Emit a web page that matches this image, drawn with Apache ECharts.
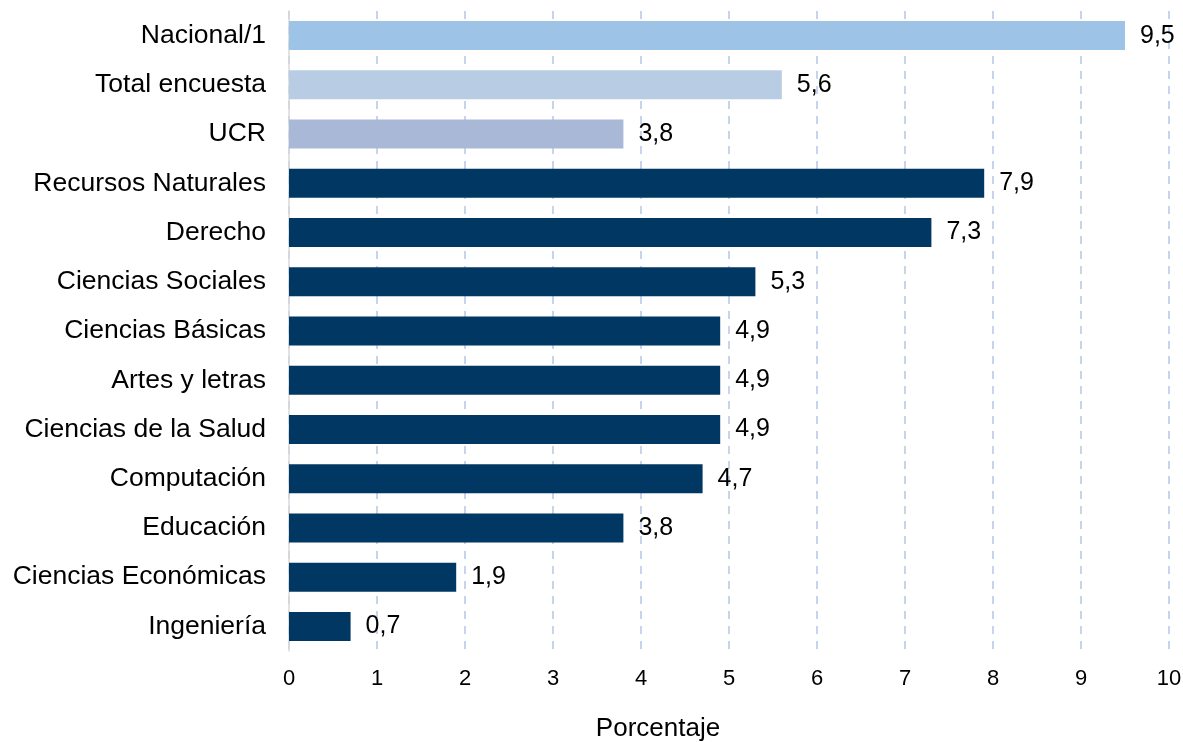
<!DOCTYPE html>
<html><head><meta charset="utf-8">
<script src="https://cdn.jsdelivr.net/npm/echarts@6/dist/echarts.min.js"></script>
<style>html,body{margin:0;padding:0;background:#fff}#c{width:1183px;height:742px}</style>
</head><body><div id="c"></div>
<script>
const categories = ["Nacional/1","Total encuesta","UCR","Recursos Naturales","Derecho","Ciencias Sociales","Ciencias Básicas","Artes y letras","Ciencias de la Salud","Computación","Educación","Ciencias Económicas","Ingeniería"];
const values = [9.5,5.6,3.8,7.9,7.3,5.3,4.9,4.9,4.9,4.7,3.8,1.9,0.7];
const barColors = ["#9DC3E6","#B8CCE4","#A9B8D6","#003763","#003763","#003763","#003763","#003763","#003763","#003763","#003763","#003763","#003763"];
const xTicks = [0,1,2,3,4,5,6,7,8,9,10];

const chart = echarts.init(document.getElementById('c'));
chart.setOption({
  animation:false,
  grid:{left:289,right:14,top:11,bottom:91,containLabel:false,outerBoundsMode:'none'},
  xAxis:{type:'value',min:0,max:10,interval:1,
    name:'Porcentaje',nameLocation:'middle',nameGap:65,
    nameTextStyle:{fontFamily:'Liberation Sans',fontSize:26,color:'#000',padding:[0,142,0,0]},
    axisLine:{show:false},axisTick:{show:false},
    axisLabel:{fontFamily:'Liberation Sans',fontSize:22,color:'#000',margin:17,formatter:v=>String(v)},
    splitLine:{show:true,lineStyle:{color:'#B4C7E7',type:[8,7],width:1.5}}},
  yAxis:{type:'category',data:categories,inverse:true,
    axisLine:{show:true,lineStyle:{color:'#D9D9D9',width:1.5}},axisTick:{show:false},
    axisLabel:{fontFamily:'Liberation Sans',fontSize:26.5,color:'#000',margin:23}},
  series:[{type:'bar',barWidth:29,
    data:values.map((v,i)=>({value:v,itemStyle:{color:barColors[i]}})),
    label:{show:true,position:'right',distance:15,fontFamily:'Liberation Sans',fontSize:25,color:'#000',
      formatter:p=>p.value.toFixed(1).replace('.',',')}}]
});
</script></body></html>
